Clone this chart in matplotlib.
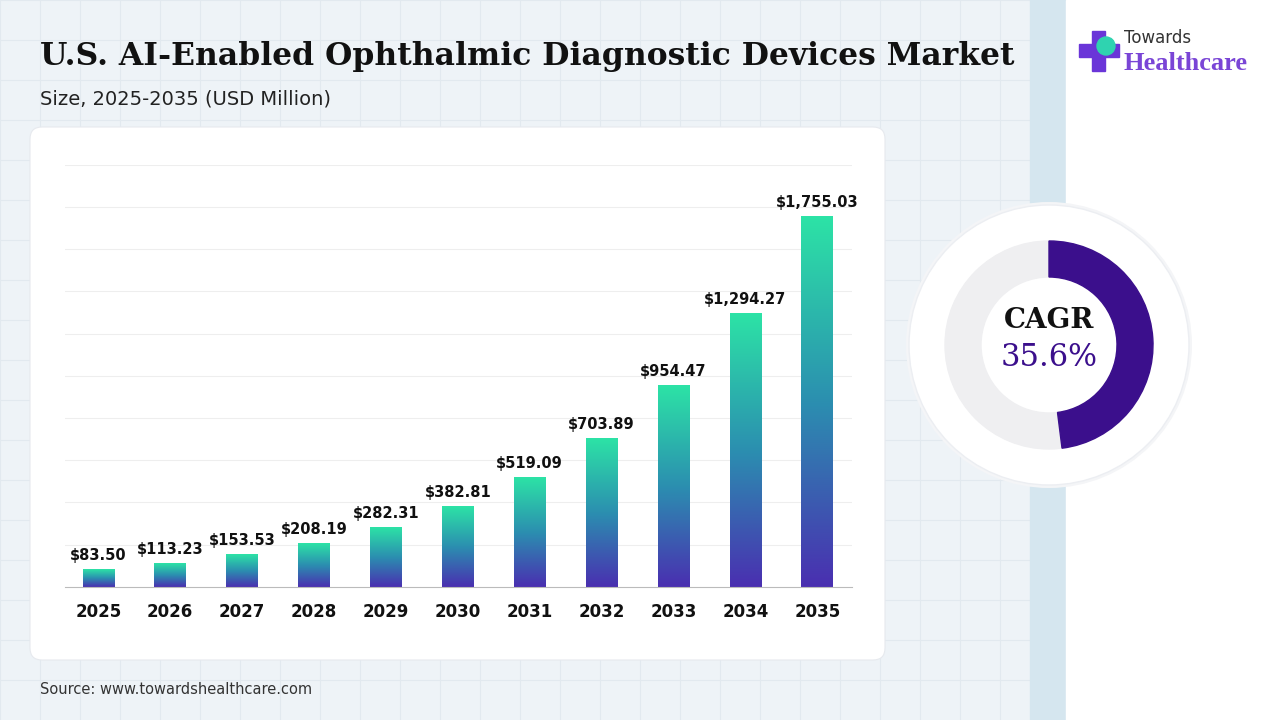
import numpy as np
import matplotlib.pyplot as plt
from matplotlib.patches import FancyBboxPatch, Rectangle, Circle, Wedge
from matplotlib.colors import LinearSegmentedColormap

years = ['2025', '2026', '2027', '2028', '2029', '2030', '2031', '2032', '2033', '2034', '2035']
values = [83.50, 113.23, 153.53, 208.19, 282.31, 382.81, 519.09, 703.89, 954.47, 1294.27, 1755.03]
cagr = '35.6%'
arc_share = 0.48

fig = plt.figure(figsize=(12.8, 7.2), dpi=100)
bg = fig.add_axes([0, 0, 1, 1])
bg.set_xlim(0, 1280)
bg.set_ylim(720, 0)
bg.axis('off')

# background panels
bg.add_patch(Rectangle((0, 0), 1030, 720, color='#eef3f7', zorder=0))
for gx in range(0, 1030, 40):
    bg.plot([gx, gx], [0, 720], color='#e2e9ef', lw=0.8, zorder=0.5)
for gy in range(0, 720, 40):
    bg.plot([0, 1030], [gy, gy], color='#e2e9ef', lw=0.8, zorder=0.5)
bg.add_patch(Rectangle((1030, 0), 36, 720, color='#d5e6ef', zorder=1))
bg.add_patch(Rectangle((1066, 0), 214, 720, color='white', zorder=1))
bg.add_patch(FancyBboxPatch((30, 127), 855, 533, boxstyle='round,pad=0,rounding_size=12',
                            fc='white', ec='#e6e9ee', lw=0.8, zorder=2))

bg.text(40, 56, 'U.S. AI-Enabled Ophthalmic Diagnostic Devices Market', fontsize=22.6,
        fontweight='bold', family='DejaVu Serif', color='#111111', va='center', zorder=3)
bg.text(40, 99, 'Size, 2025-2035 (USD Million)', fontsize=14, color='#222222', va='center', zorder=3)
bg.text(40, 689, 'Source: www.towardshealthcare.com', fontsize=10.5, color='#333333', va='center', zorder=3)

# logo
bg.add_patch(Rectangle((1092, 31), 13, 40, color='#6a35d8', zorder=3))
bg.add_patch(Rectangle((1079, 44), 40, 13, color='#6a35d8', zorder=3))
bg.add_patch(Circle((1106, 46), 9, color='#2fd3b0', zorder=4))
bg.text(1124, 38, 'Towards', fontsize=12, color='#333333', va='center', zorder=3)
bg.text(1123, 63, 'Healthcare', fontsize=19, fontweight='bold', family='Liberation Serif',
        color='#7a45d6', va='center', zorder=3)

# donut (y axis is inverted, so angles increase clockwise on screen; -90 is the top)
cx, cy = 1049, 345
bg.add_patch(Circle((cx, cy), 143, fc='#f4f5f7', ec='none', zorder=2))
bg.add_patch(Circle((cx, cy), 140, fc='white', ec='#eceef2', lw=1, zorder=2))
bg.add_patch(Wedge((cx, cy), 104, 0, 360, width=36, color='#efeff1', zorder=3))
bg.add_patch(Wedge((cx, cy), 104, -90, -90 + 360 * arc_share, width=36, color='#3b0f8c', zorder=4))
bg.text(cx, 320, 'CAGR', fontsize=20, fontweight='bold', family='DejaVu Serif',
        color='#111111', ha='center', va='center', zorder=5)
bg.text(cx, 358, cagr, fontsize=22, family='DejaVu Serif',
        color='#3b0f8c', ha='center', va='center', zorder=5)

# bar chart
ax = fig.add_axes([0.051, 0.185, 0.615, 0.586])
ax.set_zorder(3)
ax.patch.set_alpha(0)
cmap = LinearSegmentedColormap.from_list('g', ['#4a2fb0', '#2b8fb0', '#2de3a6'])
grad = np.linspace(0, 1, 256).reshape(-1, 1)
x = np.arange(len(years))
bw = 0.44
for xi, v in zip(x, values):
    ax.imshow(grad, cmap=cmap, origin='lower', aspect='auto',
              extent=[xi - bw / 2, xi + bw / 2, 0, v], zorder=2)
    ax.text(xi, v + 30, '${:,.2f}'.format(v), ha='center', va='bottom',
            fontsize=10.5, fontweight='bold', color='#111111')
ax.set_xlim(-0.46, 10.49)
ax.set_ylim(0, 2000)
ax.set_yticks(np.arange(200, 2001, 200))
ax.yaxis.grid(True, color='#eeeeee', lw=0.8)
ax.set_axisbelow(True)
ax.tick_params(axis='y', left=False, labelleft=False)
ax.set_xticks(x)
ax.set_xticklabels(years, fontsize=12, fontweight='bold', color='#111111')
ax.tick_params(axis='x', length=0, pad=12)
for s in ['top', 'right', 'left']:
    ax.spines[s].set_visible(False)
ax.spines['bottom'].set_color('#bbbbbb')

fig.savefig('out.png', dpi=100)
